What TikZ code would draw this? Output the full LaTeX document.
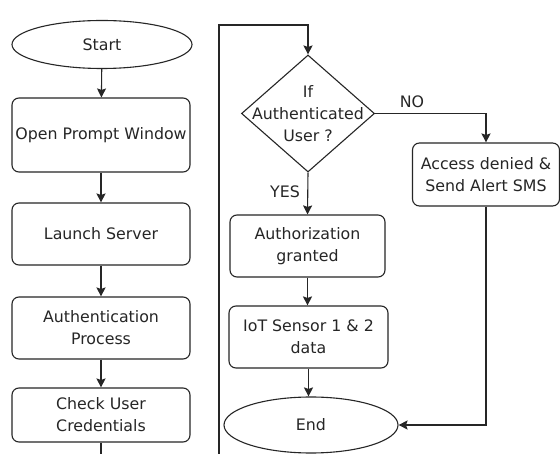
\documentclass[tikz,border=0pt]{standalone}
\usepackage{fontspec}
\setmainfont{DejaVu Sans}
\usetikzlibrary{shapes.geometric,arrows.meta}
\begin{document}
\begin{tikzpicture}[x=1pt,y=-1pt,
  line width=1.1pt, draw={black!85},
  txt/.style={font=\fontsize{15.8}{22}\selectfont, text=black!85},
  proc/.style={txt, draw, rounded corners=7pt, inner sep=0pt, align=center},
  term/.style={txt, draw, ellipse, inner sep=0pt},
  decbox/.style={draw, diamond, inner sep=0pt},
  arr/.style={-{Stealth[length=9pt,width=9pt,inset=1.5pt]}}
]
\useasboundingbox (0,0) rectangle (560,454);
\fill[white] (0,0) rectangle (560,454);

% left column
\node[term] (start) at (102,44.5) [minimum width=180pt, minimum height=48pt] {Start};
\node[proc] (open) at (101,135) [minimum width=178pt, minimum height=74pt] {Open Prompt Window};
\node[proc] (launch) at (101,234) [minimum width=178pt, minimum height=62pt] {Launch Server};
\node[proc] (authp) at (101,328) [minimum width=178pt, minimum height=62pt] {Authentication\\Process};
\node[proc] (check) at (101,415) [minimum width=178pt, minimum height=54pt] {Check User\\Credentials};

% right column
\node[decbox] (dec) at (308,113.5) [minimum width=133pt, minimum height=117pt] {};
\node[txt, align=center] at (dec) {If\\Authenticated\\User ?};
\node[proc] (deny) at (486,174.5) [minimum width=147pt, minimum height=63pt] {Access denied \&\\Send Alert SMS};
\node[proc] (grant) at (307.5,246) [minimum width=155pt, minimum height=62pt] {Authorization\\granted};
\node[proc] (iot) at (308.5,337) [minimum width=159pt, minimum height=62pt] {IoT Sensor 1 \& 2\\data};
\node[term] (end) at (311,425) [minimum width=174pt, minimum height=56pt] {End};

% connectors
\draw[arr] (start) -- (open);
\draw[arr] (open) -- (launch);
\draw[arr] (launch) -- (authp);
\draw[arr] (authp) -- (check);
\coordinate (loopx) at (219,25);
\begin{scope}
  \clip (0,0) rectangle (560,454);
  \draw[arr] (check.south) -- ++(0,30) -| (loopx) -| (dec.north);
\end{scope}
\draw[arr] (dec.east) -| (deny.north);
\draw[arr] (dec.south) -- (grant.north);
\draw[arr] (grant.south) -- (iot.north -| grant.south);
\draw[arr] (iot.south) -- (end.north -| iot.south);
\draw[arr] (deny.south) |- (end.east);

\node[txt] at (412,102) {NO};
\node[txt] at (285,192) {YES};
\end{tikzpicture}
\end{document}
